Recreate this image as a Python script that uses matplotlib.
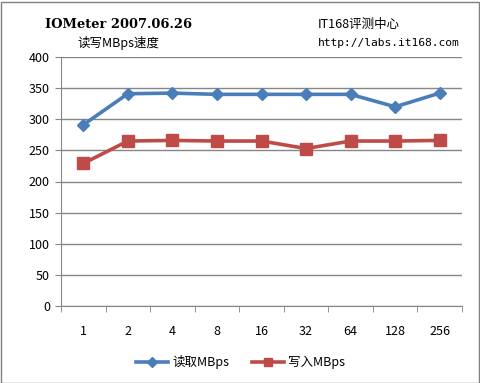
import matplotlib
matplotlib.use("Agg")
import matplotlib.pyplot as plt
from matplotlib.patches import Rectangle

plt.rcParams['font.family'] = ['Noto Sans CJK SC', 'DejaVu Sans']

categories = ['1', '2', '4', '8', '16', '32', '64', '128', '256']
read_mbps = [291, 341, 342, 340, 340, 340, 340, 320, 342]
write_mbps = [229, 265, 266, 265, 265, 253, 265, 265, 266]
yticks = [0, 50, 100, 150, 200, 250, 300, 350, 400]

W, H = 481, 383
fig = plt.figure(figsize=(W / 100, H / 100), dpi=100)
ax = fig.add_axes([61 / W, 1 - 306 / H, (462 - 61) / W, (306 - 57) / H])

x = list(range(len(categories)))
ax.plot(x, read_mbps, color='#4A7EBB', lw=2.6, marker='D', ms=6.5,
        markeredgecolor='#4A7EBB', label='读取MBps', zorder=3)
ax.plot(x, write_mbps, color='#BE4B48', lw=2.6, marker='s', ms=8,
        markeredgecolor='#BE4B48', label='写入MBps', zorder=3)

ax.set_xlim(-0.5, len(categories) - 0.5)
ax.set_ylim(0, 400)
ax.set_yticks(yticks)
ax.yaxis.grid(True, color='#868686', lw=1)
ax.set_axisbelow(True)

ax.set_xticks(x)
ax.set_xticklabels(categories)
ax.set_xticks([i - 0.5 for i in range(len(categories) + 1)], minor=True)
ax.tick_params(axis='x', which='major', length=0, pad=14, labelsize=9)
ax.tick_params(axis='x', which='minor', length=4, color='#868686')
ax.tick_params(axis='y', length=4, color='#868686', labelsize=9, pad=4)

for s in ['top', 'right']:
    ax.spines[s].set_visible(False)
for s in ['left', 'bottom']:
    ax.spines[s].set_color('#868686')

fig.text(45 / W, 1 - 25 / H, 'IOMeter 2007.06.26', family='DejaVu Serif',
         fontweight='bold', fontsize=9.4, va='center', ha='left')
fig.text(77 / W, 1 - 43 / H, '读写MBps速度', fontsize=9, va='center', ha='left')
fig.text(318 / W, 1 - 24 / H, 'IT168评测中心', fontsize=9, va='center', ha='left')
fig.text(318 / W, 1 - 43 / H, 'http://labs.it168.com', family='DejaVu Sans Mono',
         fontsize=8.15, va='center', ha='left')

leg = fig.legend(loc='center', bbox_to_anchor=(0.5, 1 - 362 / H), ncol=2, frameon=False,
                 fontsize=9, handlelength=2.6, columnspacing=1.8, handletextpad=0.3,
                 markerscale=0.8)

fig.patches.append(Rectangle((0.5 / W, 0.5 / H), 1 - 2 / W, 1 - 2 / H,
                             transform=fig.transFigure, fill=False,
                             edgecolor='#808080', lw=1))

fig.savefig('out.png', dpi=100)
